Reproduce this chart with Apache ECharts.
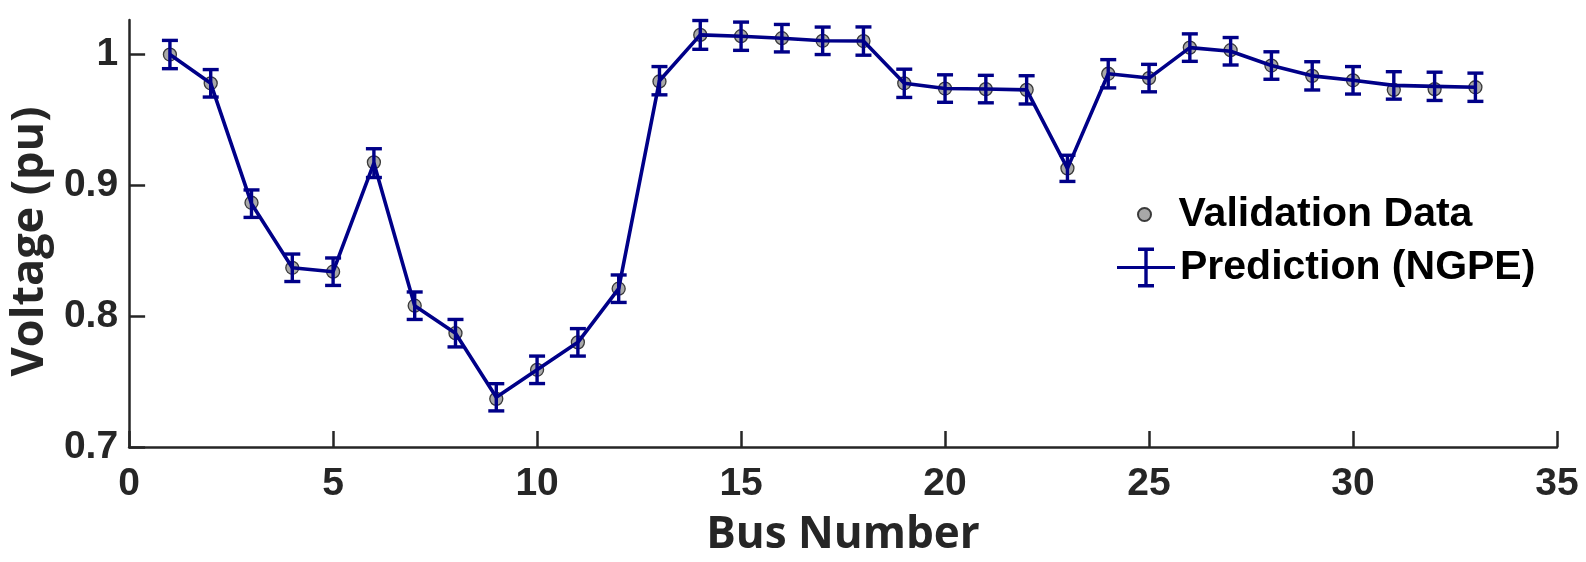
<!DOCTYPE html>
<html>
<head>
<meta charset="utf-8">
<script src="https://cdn.jsdelivr.net/npm/echarts@6/dist/echarts.min.js"></script>
<style>
html,body{margin:0;padding:0;background:#fff;}
#chart{width:1586px;height:562px;}
</style>
</head>
<body>
<div id="chart"></div>
<script>
// ---- data ----
const busNumbers = [1,2,3,4,5,6,7,8,9,10,11,12,13,14,15,16,17,18,19,20,21,22,23,24,25,26,27,28,29,30,31,32,33];
const validationData = [1.000,0.978,0.8867,0.837,0.834,0.9176,0.808,0.787,0.7368,0.759,0.780,0.821,0.9794,1.015,1.014,1.0125,1.0105,1.0103,0.978,0.974,0.9736,0.973,0.913,0.9853,0.982,1.0053,1.0033,0.9916,0.9837,0.9803,0.973,0.9736,0.975];
const predictionNGPE = [1.000,0.978,0.886,0.837,0.834,0.917,0.808,0.787,0.738,0.759,0.780,0.821,0.980,1.015,1.014,1.0125,1.0105,1.0103,0.978,0.974,0.9736,0.973,0.913,0.9853,0.982,1.0053,1.0025,0.9916,0.9837,0.9803,0.9764,0.9757,0.975];
const predictionError = [0.0108,0.0105,0.0105,0.0105,0.0105,0.011,0.0105,0.0105,0.0104,0.0105,0.0105,0.0105,0.0108,0.011,0.0108,0.0105,0.0105,0.0108,0.0108,0.0105,0.0105,0.0108,0.010,0.0108,0.0105,0.0105,0.0105,0.0105,0.0108,0.0105,0.0105,0.0108,0.0108];
const xTicks = [0,5,10,15,20,25,30,35];
const yTicks = [0.7,0.8,0.9,1.0];

const axisColor = '#262626';
const navy = '#000088';

const chart = echarts.init(document.getElementById('chart'));

const validationPts = busNumbers.map((b,i)=>[b, validationData[i]]);
const predictionPts = busNumbers.map((b,i)=>[b, predictionNGPE[i]]);
const errorPts = busNumbers.map((b,i)=>[b, predictionNGPE[i], predictionError[i]]);

// legend glyph: horizontal line + error bar with caps
const errIcon = 'path://M0 18.5H58V21.5H0Z M27.3 0H30.7V40H27.3Z M21 0H37V3.4H21Z M21 36.6H37V40H21Z';

const legendText = {fontFamily: 'Liberation Sans', fontWeight: 'bold', fontSize: 41, color: '#000'};

const option = {
  animation: false,
  backgroundColor: '#ffffff',
  grid: {left: 121.5, right: 29, top: 20, bottom: 109, containLabel: false},
  legend: [
    {
      data: ['Validation Data'],
      left: 1132, top: 189,
      itemWidth: 58, itemHeight: 13,
      selectedMode: false,
      textStyle: legendText
    },
    {
      data: [{name: 'Prediction (NGPE)', icon: errIcon}],
      left: 1112, top: 242,
      itemWidth: 58, itemHeight: 40,
      selectedMode: false,
      textStyle: legendText
    }
  ],
  xAxis: {
    type: 'value', min: 0, max: 35, interval: 5,
    name: 'Bus Number', nameLocation: 'middle', nameGap: 66,
    nameTextStyle: {fontFamily: 'Open Sans', fontWeight: 'bold', fontSize: 44, color: axisColor},
    axisLine: {show: true, onZero: false, lineStyle: {color: axisColor, width: 2.5}},
    axisTick: {show: true, inside: true, length: 16, lineStyle: {color: axisColor, width: 2.5}, customValues: xTicks},
    axisLabel: {show: true, margin: 18, fontFamily: 'Liberation Sans', fontWeight: 'bold', fontSize: 39, color: axisColor,
      customValues: xTicks, formatter: v => String(v)},
    splitLine: {show: false}
  },
  yAxis: {
    type: 'value', min: 0.7, max: 1.0264, interval: 0.1,
    name: 'Voltage (pu)', nameLocation: 'middle', nameGap: 72, nameRotate: 90,
    nameTextStyle: {fontFamily: 'Open Sans', fontWeight: 'bold', fontSize: 45, color: axisColor, padding: [0, 16, 0, 0]},
    axisLine: {show: true, onZero: false, lineStyle: {color: axisColor, width: 2.5}},
    axisTick: {show: true, inside: true, length: 16, lineStyle: {color: axisColor, width: 2.5}, customValues: yTicks},
    axisLabel: {show: true, margin: 11, fontFamily: 'Liberation Sans', fontWeight: 'bold', fontSize: 39, color: axisColor,
      customValues: yTicks,
      formatter: v => (Math.abs(v-1) < 1e-9 ? '1' : v.toFixed(1))},
    splitLine: {show: false}
  },
  series: [
    {
      name: 'Validation Data',
      type: 'scatter',
      data: validationPts,
      symbol: 'circle', symbolSize: 13,
      itemStyle: {color: '#a8a8a8', borderColor: '#3a3a3a', borderWidth: 1.3, opacity: 1},
      z: 2
    },
    {
      name: 'Prediction (NGPE)',
      type: 'line',
      data: predictionPts,
      symbol: 'none',
      lineStyle: {color: navy, width: 3.6},
      itemStyle: {color: navy},
      z: 3
    },
    {
      name: 'errorbars',
      type: 'custom',
      data: errorPts,
      z: 4,
      renderItem: function (params, api) {
        const x = api.value(0), y = api.value(1), e = api.value(2);
        const top = api.coord([x, y + e]);
        const bot = api.coord([x, y - e]);
        const half = 8;
        const st = {stroke: navy, lineWidth: 3.4, fill: null};
        return {
          type: 'group',
          children: [
            {type: 'line', shape: {x1: top[0], y1: top[1], x2: bot[0], y2: bot[1]}, style: st},
            {type: 'line', shape: {x1: top[0]-half, y1: top[1], x2: top[0]+half, y2: top[1]}, style: st},
            {type: 'line', shape: {x1: bot[0]-half, y1: bot[1], x2: bot[0]+half, y2: bot[1]}, style: st}
          ]
        };
      }
    }
  ]
};
chart.setOption(option);
</script>
</body>
</html>
